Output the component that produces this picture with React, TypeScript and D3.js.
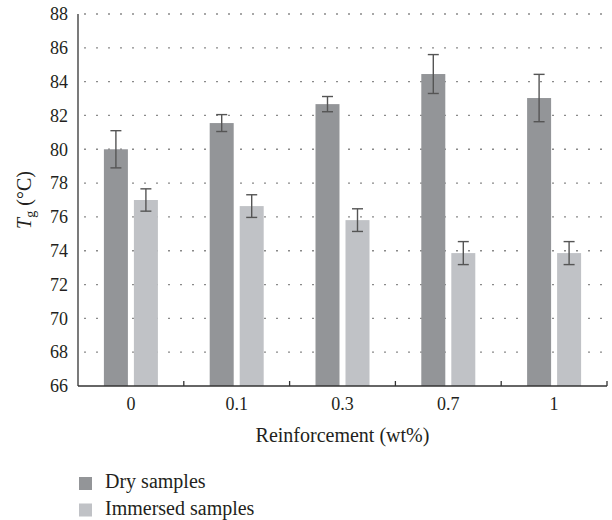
import React, { useEffect, useRef } from 'react';
import * as d3 from 'd3';

const categories = ['0', '0.1', '0.3', '0.7', '1'];
const dryValues = [80.0, 81.55, 82.67, 84.45, 83.03];
const dryErrors = [1.1, 0.5, 0.45, 1.15, 1.4];
const immersedValues = [77.0, 76.64, 75.81, 73.86, 73.86];
const immersedErrors = [0.66, 0.67, 0.67, 0.68, 0.68];
const yTicks = [66, 68, 70, 72, 74, 76, 78, 80, 82, 84, 86, 88];
const seriesNames = ['Dry samples', 'Immersed samples'];
const seriesColors = ['#939598', '#c0c2c6'];

const FONT = "'Liberation Serif', 'DejaVu Serif', 'Times New Roman', serif";

const App: React.FC = () => {
  const svgRef = useRef<SVGSVGElement>(null);

  useEffect(() => {
    if (!svgRef.current) return;
    const width = 612;
    const height = 520;
    const margin = { top: 14, right: 5, bottom: 134, left: 78 };

    const svg = d3.select(svgRef.current);
    svg.selectAll('*').remove();

    const x = d3.scaleBand()
      .domain(categories)
      .range([margin.left, width - margin.right]);

    const y = d3.scaleLinear()
      .domain([66, 88])
      .range([height - margin.bottom, margin.top]);

    // inner scale for the two bars inside each category
    const barW = 24;
    const gap = 6;
    const inner = d3.scaleOrdinal<number, number>()
      .domain([0, 1])
      .range([(x.bandwidth() - 2 * barW - gap) / 2, (x.bandwidth() - 2 * barW - gap) / 2 + barW + gap]);

    // Grid lines (dotted)
    svg.append('g')
      .selectAll('line')
      .data(yTicks.slice(1))
      .join('line')
      .attr('x1', margin.left + 6)
      .attr('x2', width - margin.right)
      .attr('y1', d => y(d))
      .attr('y2', d => y(d))
      .attr('stroke', '#8a8a8a')
      .attr('stroke-width', 1.3)
      .attr('stroke-dasharray', '2,10');

    const series = [
      { values: dryValues, errors: dryErrors },
      { values: immersedValues, errors: immersedErrors },
    ];

    // Bars
    series.forEach((s, si) => {
      svg.append('g')
        .selectAll('rect')
        .data(categories)
        .join('rect')
        .attr('x', (c) => x(c)! + inner(si))
        .attr('y', (c, i) => y(s.values[i]))
        .attr('width', barW)
        .attr('height', (c, i) => y(66) - y(s.values[i]))
        .attr('fill', seriesColors[si]);
    });

    // Error bars
    series.forEach((s, si) => {
      categories.forEach((c, i) => {
        const cx = x(c)! + inner(si) + barW / 2;
        const top = y(s.values[i] + s.errors[i]);
        const bot = y(s.values[i] - s.errors[i]);
        const g = svg.append('g').attr('stroke', '#555').attr('stroke-width', 1.4);
        g.append('line').attr('x1', cx).attr('x2', cx).attr('y1', top).attr('y2', bot);
        g.append('line').attr('x1', cx - 5.5).attr('x2', cx + 5.5).attr('y1', top).attr('y2', top);
        g.append('line').attr('x1', cx - 5.5).attr('x2', cx + 5.5).attr('y1', bot).attr('y2', bot);
      });
    });

    // Axes lines
    svg.append('line')
      .attr('x1', margin.left).attr('x2', margin.left)
      .attr('y1', y(88)).attr('y2', y(66))
      .attr('stroke', '#333').attr('stroke-width', 1.3);
    svg.append('line')
      .attr('x1', margin.left).attr('x2', width - margin.right)
      .attr('y1', y(66)).attr('y2', y(66))
      .attr('stroke', '#333').attr('stroke-width', 1.3);

    // X band boundary ticks
    const bounds = categories.slice(1).map(c => x(c)!).concat([width - margin.right]);
    svg.append('g')
      .selectAll('line')
      .data(bounds)
      .join('line')
      .attr('x1', d => d).attr('x2', d => d)
      .attr('y1', y(66)).attr('y2', y(66) - 5)
      .attr('stroke', '#333').attr('stroke-width', 1.3);

    const txt = (sel: any, size: number) =>
      sel.style('font-family', FONT).style('font-size', `${size}px`).attr('fill', '#231f20');

    // Y tick labels
    svg.append('g')
      .selectAll('text')
      .data(yTicks)
      .join('text')
      .attr('x', margin.left - 10)
      .attr('y', d => y(d))
      .attr('dy', '0.35em')
      .attr('text-anchor', 'end')
      .call(txt, 18)
      .text(d => d);

    // X tick labels
    svg.append('g')
      .selectAll('text')
      .data(categories)
      .join('text')
      .attr('x', c => x(c)! + x.bandwidth() / 2)
      .attr('y', y(66) + 24)
      .attr('text-anchor', 'middle')
      .call(txt, 18)
      .text(c => c);

    // X axis title
    svg.append('text')
      .attr('x', (margin.left + width - margin.right) / 2)
      .attr('y', 442)
      .attr('text-anchor', 'middle')
      .call(txt, 20)
      .text('Reinforcement (wt%)');

    // Y axis title
    const yt = svg.append('text')
      .attr('transform', `translate(31, ${(y(88) + y(66)) / 2}) rotate(-90)`)
      .attr('text-anchor', 'middle')
      .call(txt, 20);
    yt.append('tspan').style('font-style', 'italic').text('T');
    yt.append('tspan').style('font-size', '14px').attr('dy', 4).text('g');
    yt.append('tspan').attr('dy', -4).text(' (°C)');

    // Legend
    const legend = svg.append('g');
    seriesNames.forEach((name, i) => {
      const ly = 477 + i * 26.5;
      legend.append('rect')
        .attr('x', 79).attr('y', ly)
        .attr('width', 13).attr('height', 13)
        .attr('fill', seriesColors[i]);
      legend.append('text')
        .attr('x', 105).attr('y', ly + 11)
        .call(txt, 20)
        .text(name);
    });
  }, []);

  return (
    <div style={{ position: 'fixed', top: 0, left: 0, width: 612, height: 520, background: '#fff' }}>
      <svg ref={svgRef} width={612} height={520} style={{ display: 'block' }} />
    </div>
  );
};

export default App;
